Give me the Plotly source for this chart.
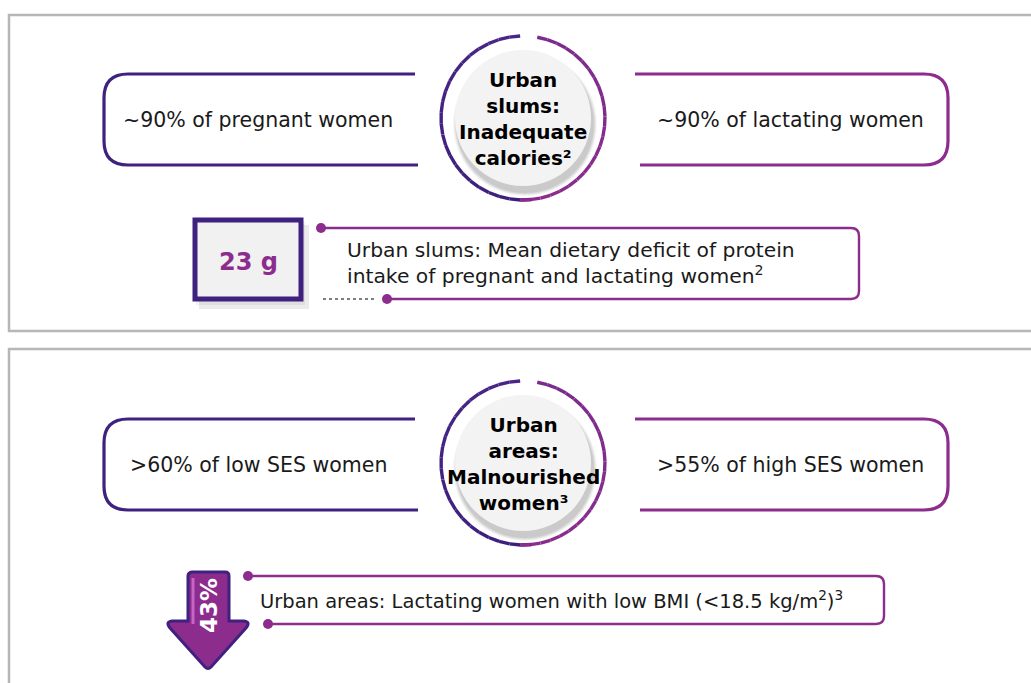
import numpy as np
import plotly.graph_objects as go

# ---------------- data (texts of the infographic) ----------------
panel_titles = ["Urban<br>slums:<br>Inadequate<br>calories²",
                "Urban<br>areas:<br>Malnourished<br>women³"]
left_stats = ["~90% of pregnant women", ">60% of low SES women"]
right_stats = ["~90% of lactating women", ">55% of high SES women"]
callout_values = ["23 g", "43%"]
callout_texts = ["Urban slums: Mean dietary deficit of protein<br>intake of pregnant and lactating women<sup>2</sup>",
                 "Urban areas: Lactating women with low BMI (&lt;18.5 kg/m<sup>2</sup>)<sup>3</sup>"]

# ---------------- styling ----------------
W, H = 1031, 683
INDIGO = "#3f217f"
MAGENTA = "#8c2c8d"
GRAY = "#b7b7b7"
FONT = "DejaVu Sans"

fig = go.Figure()
shapes = []
annotations = []

# panel frames
panel_tops = [15, 349]
panel_bottoms = [331, 720]
for t, b in zip(panel_tops, panel_bottoms):
    shapes.append(dict(type="rect", x0=9, y0=t, x1=1060, y1=b,
                       line=dict(color=GRAY, width=2.5), fillcolor="white", layer="below"))

def rounded_left(x_open_top, x_open_bot, x_left, y0, y1, r):
    return (f"M {x_open_top},{y0} L {x_left + r},{y0} Q {x_left},{y0} {x_left},{y0 + r} "
            f"L {x_left},{y1 - r} Q {x_left},{y1} {x_left + r},{y1} L {x_open_bot},{y1}")

def rounded_right(x_open_top, x_open_bot, x_right, y0, y1, r):
    return (f"M {x_open_top},{y0} L {x_right - r},{y0} Q {x_right},{y0} {x_right},{y0 + r} "
            f"L {x_right},{y1 - r} Q {x_right},{y1} {x_right - r},{y1} L {x_open_bot},{y1}")

box_tops = [74, 419]
box_bots = [165, 510]
centers_y = [118, 463]
cx = 523
R = 82

for i in range(2):
    y0, y1 = box_tops[i], box_bots[i]
    cy = centers_y[i]
    shapes.append(dict(type="path", path=rounded_left(415, 418, 104, y0, y1, 24),
                       line=dict(color=INDIGO, width=3.2)))
    shapes.append(dict(type="path", path=rounded_right(635, 640, 948, y0, y1, 24),
                       line=dict(color=MAGENTA, width=3.2)))
    annotations.append(dict(x=258, y=(y0 + y1) / 2, text=left_stats[i], showarrow=False,
                            font=dict(family=FONT, size=20.5, color="#1a1a1a"),
                            xanchor="center", yanchor="middle"))
    annotations.append(dict(x=790, y=(y0 + y1) / 2, text=right_stats[i], showarrow=False,
                            font=dict(family=FONT, size=20.5, color="#1a1a1a"),
                            xanchor="center", yanchor="middle"))

    # inner circle soft shadow
    for rr, a in [(72, 0.04), (71, 0.05), (70, 0.06), (69, 0.07)]:
        shapes.append(dict(type="circle", x0=cx - rr + 2, x1=cx + rr + 2,
                           y0=cy - rr + 6, y1=cy + rr + 6,
                           line=dict(width=0), fillcolor=f"rgba(0,0,0,{a})"))
    shapes.append(dict(type="circle", x0=cx - 68, x1=cx + 68, y0=cy - 68, y1=cy + 68,
                       line=dict(width=0), fillcolor="#f3f3f3"))

    def arc(a0, a1, c0, c1, n=24):
        angs = np.linspace(a0, a1, n + 1)
        cols0 = np.array([int(c0[j:j + 2], 16) for j in (1, 3, 5)])
        cols1 = np.array([int(c1[j:j + 2], 16) for j in (1, 3, 5)])
        for k in range(n):
            t = (k + 0.5) / n
            col = cols0 + (cols1 - cols0) * t
            seg = np.linspace(angs[k], angs[k + 1], 4)
            xs = cx + R * np.sin(np.radians(seg))
            ys = cy - R * np.cos(np.radians(seg))
            fig.add_trace(go.Scatter(x=xs, y=ys, mode="lines", hoverinfo="skip",
                                     line=dict(color="rgb(%d,%d,%d)" % tuple(col), width=3.4),
                                     showlegend=False))
    arc(-2, -186, "#4a2688", "#3b1f7c")
    arc(10, 182, "#7a2b8e", "#8e2d8d")

    annotations.append(dict(x=cx, y=cy + 1, text="<b>" + panel_titles[i] + "</b>", showarrow=False,
                            font=dict(family=FONT, size=20, color="#000000"),
                            xanchor="center", yanchor="middle"))

# ---------------- callout 1: 23 g box ----------------
shapes.append(dict(type="rect", x0=199, y0=225, x1=309, y1=309, line=dict(width=0),
                   fillcolor="rgba(0,0,0,0.08)"))
shapes.append(dict(type="rect", x0=196, y0=222, x1=305, y1=305, line=dict(width=0),
                   fillcolor="rgba(0,0,0,0.05)"))
shapes.append(dict(type="rect", x0=195, y0=220, x1=301, y1=299,
                   line=dict(color=INDIGO, width=5), fillcolor="#f1f1f1"))
annotations.append(dict(x=248, y=262, text="<b>" + callout_values[0] + "</b>", showarrow=False,
                        font=dict(family=FONT, size=24, color=MAGENTA),
                        xanchor="center", yanchor="middle"))

shapes.append(dict(type="path",
                   path="M 321,228 L 851,228 Q 859,228 859,236 L 859,291 Q 859,299 851,299 L 387,299",
                   line=dict(color=MAGENTA, width=2.4)))
shapes.append(dict(type="line", x0=323, x1=376, y0=299, y1=299,
                   line=dict(color="#555555", width=1.6, dash="dot")))
for (dx, dy) in [(321, 228), (387, 299)]:
    shapes.append(dict(type="circle", x0=dx - 5, x1=dx + 5, y0=dy - 5, y1=dy + 5,
                       line=dict(width=0), fillcolor=MAGENTA))
annotations.append(dict(x=345, y=263, text=callout_texts[0], showarrow=False, align="left",
                        font=dict(family=FONT, size=20.3, color="#1a1a1a"),
                        xanchor="left", yanchor="middle"))

# ---------------- callout 2: 43% arrow ----------------
arrow_path = ("M 193,572 L 225,572 Q 229,572 229,576 L 229,621 L 244,621 Q 251,622 246,628 "
              "L 211,667 Q 208,670 205,667 L 170,628 Q 165,622 172,621 L 188,621 L 188,576 "
              "Q 188,572 193,572 Z")
shapes.append(dict(type="path", path=arrow_path, fillcolor=MAGENTA,
                   line=dict(color=INDIGO, width=3)))
shapes.append(dict(type="line", x0=193, x1=193, y0=578, y1=624,
                   line=dict(color="#c765c6", width=3)))
annotations.append(dict(x=209, y=606, text="<b>" + callout_values[1] + "</b>", showarrow=False,
                        textangle=-90, font=dict(family=FONT, size=23, color="white"),
                        xanchor="center", yanchor="middle"))

shapes.append(dict(type="path",
                   path="M 248,576 L 876,576 Q 884,576 884,584 L 884,616 Q 884,624 876,624 L 268,624",
                   line=dict(color=MAGENTA, width=2.4)))
for (dx, dy) in [(248, 576), (268, 624)]:
    shapes.append(dict(type="circle", x0=dx - 5, x1=dx + 5, y0=dy - 5, y1=dy + 5,
                       line=dict(width=0), fillcolor=MAGENTA))
annotations.append(dict(x=258, y=600, text=callout_texts[1], showarrow=False, align="left",
                        font=dict(family=FONT, size=19.5, color="#1a1a1a"),
                        xanchor="left", yanchor="middle"))

fig.update_layout(
    width=W, height=H,
    margin=dict(l=0, r=0, t=0, b=0),
    paper_bgcolor="white", plot_bgcolor="white",
    xaxis=dict(range=[0, W], visible=False, fixedrange=True),
    yaxis=dict(range=[H, 0], visible=False, fixedrange=True),
    shapes=shapes, annotations=annotations, showlegend=False,
)
fig.write_html("out.html", config={"displayModeBar": False},
               post_script="document.body.style.margin='0';document.body.style.overflow='hidden';")
